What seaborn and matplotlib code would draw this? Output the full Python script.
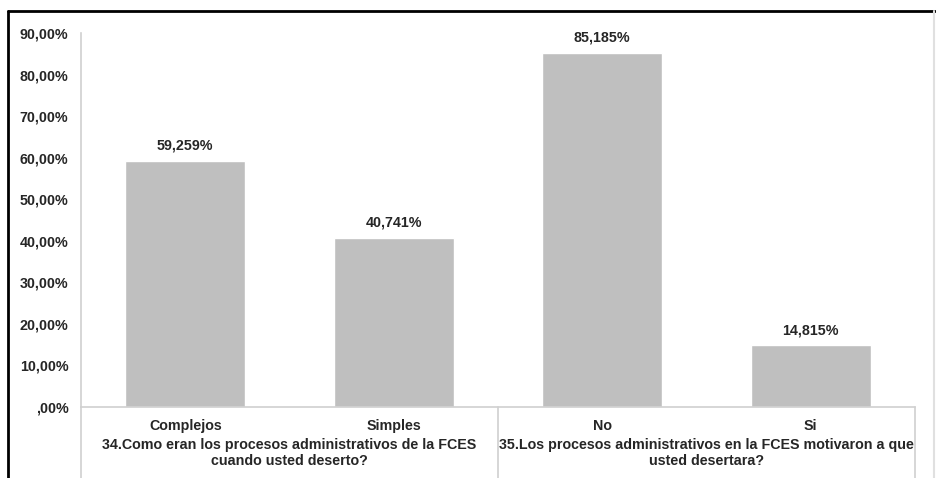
import matplotlib
matplotlib.use("Agg")
import matplotlib.pyplot as plt
import seaborn as sns
import pandas as pd
from matplotlib.lines import Line2D

categories = ["Complejos", "Simples", "No", "Si"]
values = [59.259, 40.741, 85.185, 14.815]
value_labels = ["59,259%", "40,741%", "85,185%", "14,815%"]
groups = ["34.Como eran los procesos administrativos de la FCES\ncuando usted deserto?",
          "35.Los procesos administrativos en la FCES motivaron a que\nusted desertara?"]
yticks = [0, 10, 20, 30, 40, 50, 60, 70, 80, 90]
ytick_labels = [",00%", "10,00%", "20,00%", "30,00%", "40,00%", "50,00%",
                "60,00%", "70,00%", "80,00%", "90,00%"]

df = pd.DataFrame({"cat": categories, "val": values})

sns.set_style("white")
plt.rcParams["font.family"] = ["Liberation Sans", "DejaVu Sans"]

W, H = 937, 478
FS = 10.3
TXT = "#262626"
fig = plt.figure(figsize=(W / 100, H / 100), dpi=100)
ax = fig.add_axes([81 / W, 1 - 407 / H, (915 - 81) / W, (407 - 33) / H])

sns.barplot(data=df, x="cat", y="val", color="#BFBFBF", width=0.575,
            saturation=1, ax=ax)

ax.set_ylim(0, 90)
ax.set_xlim(-0.5, 3.5)
ax.set_yticks(yticks)
ax.set_yticklabels(ytick_labels, fontsize=FS, fontweight="bold", color=TXT)
ax.tick_params(axis="y", length=0, pad=9)
ax.set_xticks([])
ax.set_xlabel("")
ax.set_ylabel("")

for s in ["top", "right"]:
    ax.spines[s].set_visible(False)
for s in ["left", "bottom"]:
    ax.spines[s].set_color("#D0D0D0")
    ax.spines[s].set_linewidth(1.2)

# data labels
for i, (v, lab) in enumerate(zip(values, value_labels)):
    ax.annotate(lab, (i, v), xytext=(0, 6), textcoords="offset points",
                ha="center", va="bottom", fontsize=FS, fontweight="bold",
                color=TXT)

# category labels
for i, c in enumerate(categories):
    ax.annotate(c, (i, 0), xycoords=("data", "axes fraction"), xytext=(0, -19),
                textcoords="offset pixels", ha="center", va="center",
                fontsize=FS, fontweight="bold", color=TXT)

# group labels
for g, txt in enumerate(groups):
    ax.annotate(txt, (g * 2 + 0.5, 0), xycoords=("data", "axes fraction"),
                xytext=(0, -46), textcoords="offset pixels", ha="center",
                va="center", fontsize=FS, fontweight="bold", color=TXT,
                linespacing=1.2)

# separator lines of the multi-level axis
for xs in [81, 498, 915]:
    fig.add_artist(Line2D([xs / W, xs / W], [1 - 407 / H, 0],
                          color="#D0D0D0", lw=1.2))

# outer frame
fig.add_artist(Line2D([8 / W, 935 / W], [1 - 11 / H, 1 - 11 / H], color="black", lw=2))
fig.add_artist(Line2D([8 / W, 8 / W], [1 - 11 / H, 0], color="black", lw=2))
fig.add_artist(Line2D([934 / W, 934 / W], [1 - 11 / H, 0], color="#E0E0E0", lw=1.5))

fig.savefig("out.png", dpi=100)
